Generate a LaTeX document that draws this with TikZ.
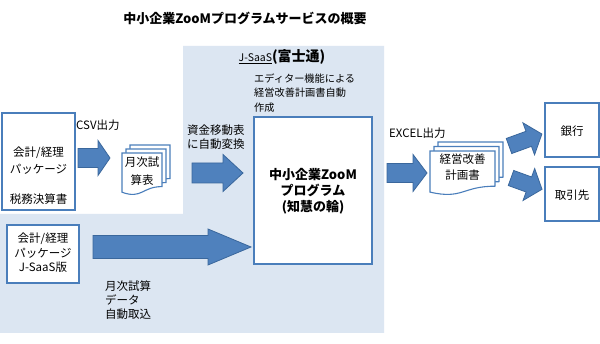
\documentclass[tikz,border=0pt]{standalone}
\usepackage{fontspec}
\setmainfont{Noto Sans CJK JP}
\definecolor{bgblue}{HTML}{DCE6F2}
\definecolor{arrfill}{HTML}{4F81BD}
\definecolor{arrline}{HTML}{3A679C}
\definecolor{boxline}{HTML}{4A7EBB}
\tikzset{
  arrowshape/.style={fill=arrfill, draw=arrline, line width=0.8pt, line join=miter},
  pageshape/.style={fill=white, draw=boxline, line width=1.1pt},
  boxshape/.style={fill=white, draw=boxline, line width=1.4pt},
  txt/.style={font=\fontsize{11.5}{14}\selectfont, inner sep=0pt},
  smalltxt/.style={font=\fontsize{10.2}{14.2}\selectfont, inner sep=0pt},
  bigtxt/.style={font=\bfseries\fontsize{13}{16}\selectfont, inner sep=0pt, align=center},
}
\newcommand{\barrow}[7]{%
  \begin{scope}[shift={(#1,#2)},rotate=#3]
    \draw[arrowshape] (0,-#5) -- ({#4-#7},-#5) -- ({#4-#7},-#6) -- (#4,0) -- ({#4-#7},#6) -- ({#4-#7},#5) -- (0,#5) -- cycle;
  \end{scope}}
\newcommand{\docpage}[4]{%
  \draw[pageshape] (#1,#2) -- ({#1+#3},#2) -- ({#1+#3},{#2+0.8*#4})
    .. controls ({#1+0.5*#3},{#2+0.8*#4}) and ({#1+0.5*#3},{#2+1.107*#4}) .. (#1,{#2+0.934*#4}) -- cycle;}
\begin{document}
\begin{tikzpicture}[x=1pt,y=-1pt]
\useasboundingbox[fill=white] (0,0) rectangle (600,344);
% background
\fill[bgblue] (183,46) -- (384,46) -- (384,333) -- (0,333) -- (0,214) -- (183,214) -- cycle;
% title
\node[font=\bfseries\fontsize{13}{16}\selectfont, inner sep=0pt] (title) at (245,18) {中小企業ZooMプログラムサービスの概要};
% J-SaaS label
\node[inner sep=0pt] (jsaas) at (282,57) {\fontsize{10.5}{12}\selectfont\underline{J-SaaS}\bfseries\fontsize{14}{16}\selectfont(富士通)};
\node[smalltxt, anchor=west, align=left] (editor) at (254,93) {エディター機能による\\経営改善計画書自動\\作成};
% box 1
\draw[boxshape] (2,113) rectangle (75,210);
\node[txt] (b1a) at (38.5,153) {会計/経理};
\node[txt] (b1b) at (38.5,169) {パッケージ};
\node[txt] (b1c) at (38.5,199) {税務決算書};
\node[txt, anchor=west] (csv) at (76,125) {CSV出力};
% arrow 1
\barrow{78}{158}{0}{32}{9.5}{17.5}{12}
% doc stack 1
\docpage{130}{145}{40}{42}
\docpage{126}{149}{40}{42}
\docpage{122}{153}{40}{42}
\node[txt] (g1) at (142,162) {月次試};
\node[txt] (g2) at (142,180) {算表};
% arrow 2
\node[txt, anchor=west, align=left] (conv) at (187,137) {資金移動表\\に自動変換};
\barrow{192}{173}{0}{51}{10}{18.5}{20}
% box 2
\draw[boxshape] (7,225) rectangle (79,283);
\node[txt] (b2a) at (43,239) {会計/経理};
\node[txt] (b2b) at (43,253) {パッケージ};
\node[txt] (b2c) at (43,267) {J-SaaS版};
% arrow 3
\barrow{93}{247}{0}{158}{11.5}{18}{43}
\node[txt, anchor=west, align=left] (auto) at (105,300) {月次試算\\データ\\自動取込};
% center box
\draw[boxshape] (254,117) rectangle (372,264);
\node[bigtxt] (center) at (313,191) {中小企業ZooM\\プログラム\\(知慧の輪)};
% right side
\node[txt, anchor=west] (excel) at (389,133) {EXCEL出力};
\barrow{387}{173}{0}{40}{9.5}{18.5}{14}
\docpage{438}{142}{65}{44}
\docpage{434}{146.5}{65}{44}
\docpage{430}{151}{65}{44}
\node[txt] (k1) at (462.5,159) {経営改善};
\node[txt] (k2) at (462.5,175) {計画書};
\barrow{509}{146}{20}{35}{8}{17}{14}
\barrow{511}{178}{-20}{33}{8}{17}{14}
\draw[boxshape] (545,103) rectangle (599,157);
\node[txt] (bank) at (572,131) {銀行};
\draw[boxshape] (545,167) rectangle (599,221);
\node[txt] (client) at (572,195) {取引先};
\end{tikzpicture}
\end{document}
